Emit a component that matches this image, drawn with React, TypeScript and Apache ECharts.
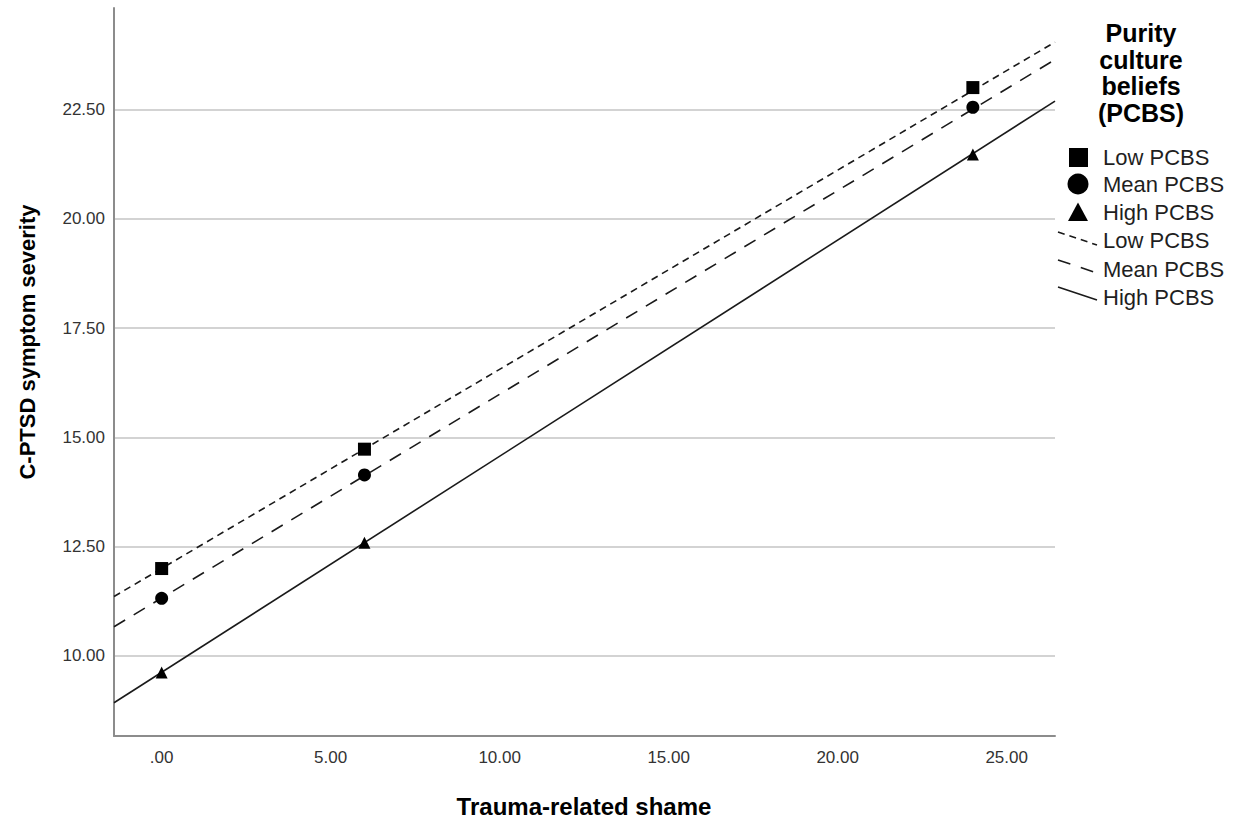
import React, { useEffect, useRef } from "react";
import * as echarts from "echarts";

// ---- data ----
const shameLevels = [0, 6, 24];
const lowPCBS = [12.0, 14.73, 23.0];
const meanPCBS = [11.32, 14.14, 22.55];
const highPCBS = [9.62, 12.59, 21.47];

// fitted lines, endpoints read at the plot edges
const fitX = [-1.41, 26.43];
const lowFit = [11.36, 24.04];
const meanFit = [10.67, 23.64];
const highFit = [8.93, 22.69];

const xTicks = [0, 5, 10, 15, 20, 25];
const yTicks = [10, 12.5, 15, 17.5, 20, 22.5];
const xRange = [-1.41, 26.43];
const yRange = [8.17, 24.82];

const legendLabels = ["Low PCBS", "Mean PCBS", "High PCBS"];

const FONT = "'Liberation Sans', Arial, sans-serif";

function pairs(xs: number[], ys: number[]) {
  return xs.map((x, i) => [x, ys[i]]);
}

export default function App() {
  const ref = useRef<HTMLDivElement>(null);
  useEffect(() => {
    if (!ref.current) return;
    const chart = echarts.init(ref.current, null, { renderer: "svg" });
    const lineColor = "#1a1a1a";
    const legendText = (t: string, y: number) => ({
      type: "text",
      x: 1103,
      y,
      style: { text: t, font: `22px ${FONT}`, fill: "#1f1f1f", verticalAlign: "middle", align: "left" },
    });
    const option: any = {
      animation: false,
      backgroundColor: "#ffffff",
      grid: { left: 114, right: 184, top: 8, bottom: 89, containLabel: false },
      xAxis: {
        type: "value",
        min: xRange[0],
        max: xRange[1],
        axisLine: { show: true, onZero: false, lineStyle: { color: "#8c8c8c", width: 2 } },
        axisTick: { show: false, customValues: xTicks },
        axisLabel: {
          customValues: xTicks,
          margin: 13,
          color: "#333",
          fontSize: 17,
          fontFamily: FONT,
          formatter: (v: number) => (v === 0 ? ".00" : v.toFixed(2)),
        },
        splitLine: { show: false },
      },
      yAxis: {
        type: "value",
        min: yRange[0],
        max: yRange[1],
        axisLine: { show: true, onZero: false, lineStyle: { color: "#8c8c8c", width: 2 } },
        axisTick: { show: false, customValues: yTicks },
        axisLabel: {
          customValues: yTicks,
          margin: 9,
          color: "#333",
          fontSize: 17,
          fontFamily: FONT,
          formatter: (v: number) => v.toFixed(2),
        },
        splitLine: { show: true, lineStyle: { color: "#c4c4c4", width: 1.5 } },
      },
      series: [
        {
          name: "Low PCBS fit",
          type: "line",
          data: pairs(fitX, lowFit),
          symbol: "none",
          silent: true,
          z: 2,
          lineStyle: { color: lineColor, width: 1.6, type: [7, 5] },
        },
        {
          name: "Mean PCBS fit",
          type: "line",
          data: pairs(fitX, meanFit),
          symbol: "none",
          silent: true,
          z: 2,
          lineStyle: { color: lineColor, width: 1.6, type: [13, 10] },
        },
        {
          name: "High PCBS fit",
          type: "line",
          data: pairs(fitX, highFit),
          symbol: "none",
          silent: true,
          z: 2,
          lineStyle: { color: lineColor, width: 1.6 },
        },
        {
          name: legendLabels[0],
          type: "scatter",
          data: pairs(shameLevels, lowPCBS),
          symbol: "rect",
          symbolSize: 13,
          z: 3,
          itemStyle: { color: "#000", opacity: 1 },
        },
        {
          name: legendLabels[1],
          type: "scatter",
          data: pairs(shameLevels, meanPCBS),
          symbol: "circle",
          symbolSize: 13,
          z: 3,
          itemStyle: { color: "#000", opacity: 1 },
        },
        {
          name: legendLabels[2],
          type: "scatter",
          data: pairs(shameLevels, highPCBS),
          symbol: "triangle",
          symbolSize: 12,
          z: 3,
          itemStyle: { color: "#000", opacity: 1 },
        },
      ],
      graphic: [
        {
          type: "text",
          x: 584,
          y: 806,
          style: {
            text: "Trauma-related shame",
            font: `bold 24px ${FONT}`,
            fill: "#000",
            align: "center",
            verticalAlign: "middle",
          },
        },
        {
          type: "text",
          x: 27,
          y: 342,
          rotation: Math.PI / 2,
          style: {
            text: "C-PTSD symptom severity",
            font: `bold 22px ${FONT}`,
            fill: "#000",
            align: "center",
            verticalAlign: "middle",
          },
        },
        {
          type: "text",
          x: 1141,
          y: 20,
          style: {
            text: "Purity\nculture\nbeliefs\n(PCBS)",
            font: `bold 25px ${FONT}`,
            lineHeight: 26.5,
            fill: "#000",
            align: "center",
            verticalAlign: "top",
          },
        },
        { type: "rect", shape: { x: 1069, y: 148, width: 19, height: 19 }, style: { fill: "#000" } },
        { type: "circle", shape: { cx: 1078, cy: 184, r: 10.5 }, style: { fill: "#000" } },
        {
          type: "polygon",
          shape: { points: [[1078, 202.5], [1088, 221], [1068, 221]] },
          style: { fill: "#000" },
        },
        {
          type: "line",
          shape: { x1: 1058, y1: 232, x2: 1097, y2: 245 },
          style: { stroke: lineColor, lineWidth: 1.6, lineDash: [7, 5] },
        },
        {
          type: "line",
          shape: { x1: 1058, y1: 260, x2: 1097, y2: 273 },
          style: { stroke: lineColor, lineWidth: 1.6, lineDash: [13, 11] },
        },
        {
          type: "line",
          shape: { x1: 1058, y1: 287, x2: 1097, y2: 300 },
          style: { stroke: lineColor, lineWidth: 1.6 },
        },
        legendText(legendLabels[0], 157),
        legendText(legendLabels[1], 184),
        legendText(legendLabels[2], 212),
        legendText(legendLabels[0], 240),
        legendText(legendLabels[1], 269),
        legendText(legendLabels[2], 297),
      ],
    };
    chart.setOption(option);
    return () => chart.dispose();
  }, []);
  return (
    <div
      ref={ref}
      style={{ position: "absolute", left: 0, top: 0, width: 1239, height: 825, background: "#fff" }}
    />
  );
}
